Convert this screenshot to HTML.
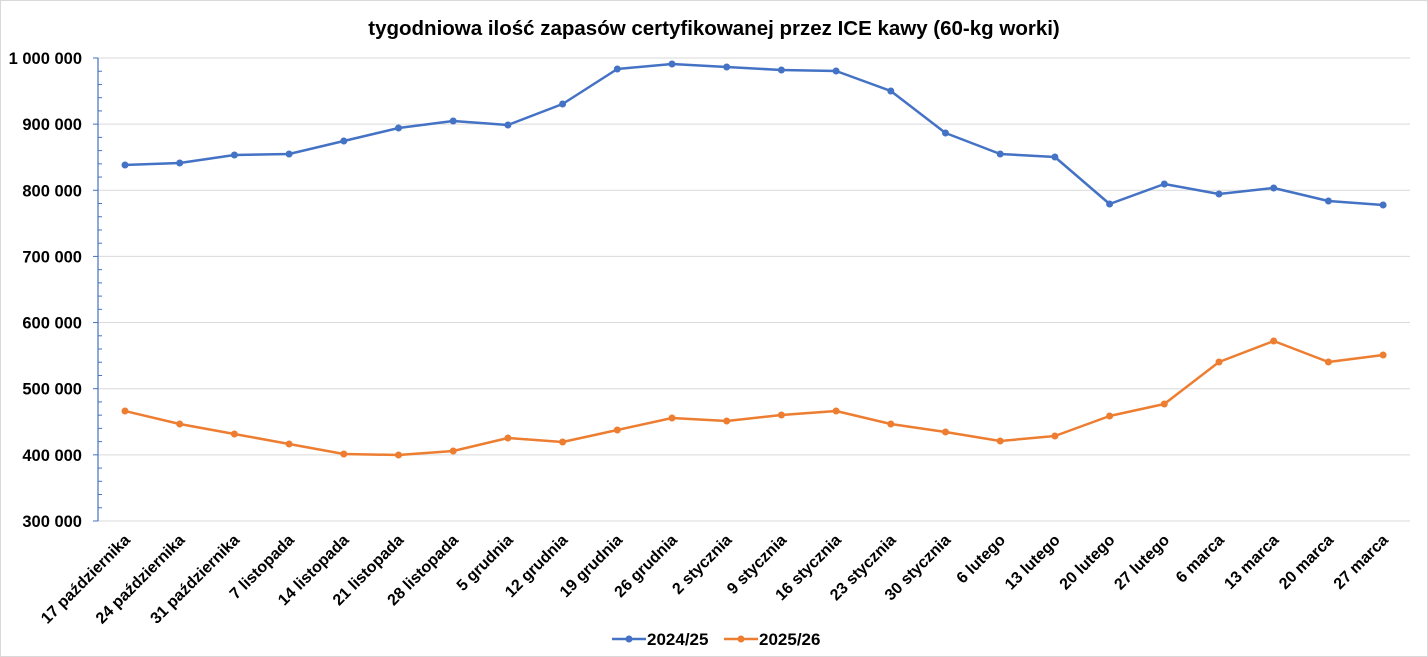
<!DOCTYPE html>
<html><head><meta charset="utf-8"><style>
html,body{margin:0;padding:0;background:#fff}
svg{display:block;font-family:"Liberation Sans",sans-serif}
</style></head><body>
<svg id="s" width="1428" height="657" xmlns="http://www.w3.org/2000/svg">
<rect x="0.5" y="0.5" width="1427" height="656" fill="#fff" stroke="#d9d9d9"/>
<text x="714" y="35" text-anchor="middle" font-size="20.5" font-weight="bold" fill="#000">tygodniowa ilość zapasów certyfikowanej przez ICE kawy (60-kg worki)</text>
<g id="g"></g>
<line x1="612" y1="639" x2="646" y2="639" stroke="#4472c4" stroke-width="2.5"/><circle cx="629" cy="639" r="3.5" fill="#4472c4"/>
<text x="647" y="645" font-size="17" font-weight="bold">2024/25</text>
<line x1="724" y1="639" x2="758" y2="639" stroke="#ed7d31" stroke-width="2.5"/><circle cx="741" cy="639" r="3.5" fill="#ed7d31"/>
<text x="759" y="645" font-size="17" font-weight="bold">2025/26</text>
</svg>
<script>
var g=document.getElementById('g'),h='';
var y0=58,step=66.14;
for(var i=0;i<8;i++){var y=y0+i*step;h+='<line x1="98" y1="'+y+'" x2="1410" y2="'+y+'" stroke="#d9d9d9" stroke-width="1"/>';
h+='<line x1="93" y1="'+y+'" x2="98" y2="'+y+'" stroke="#4472c4"/>';
h+='<text x="82" y="'+(y+6)+'" text-anchor="end" font-size="16.5" font-weight="bold">'+(['1 000 000','900 000','800 000','700 000','600 000','500 000','400 000','300 000'][i])+'</text>';}
for(var j=1;j<35;j++){if(j%5==0)continue;var y=y0+j*step/5;h+='<line x1="98" y1="'+y+'" x2="102" y2="'+y+'" stroke="#4472c4"/>';}
h+='<line x1="98" y1="58" x2="98" y2="521" stroke="#4472c4" stroke-width="1.2"/>';
var labs=['17 października','24 października','31 października','7 listopada','14 listopada','21 listopada','28 listopada','5 grudnia','12 grudnia','19 grudnia','26 grudnia','2 stycznia','9 stycznia','16 stycznia','23 stycznia','30 stycznia','6 lutego','13 lutego','20 lutego','27 lutego','6 marca','13 marca','20 marca','27 marca'];
var b=[165,163,155,154,141,128,121,125,104,69,64,67,70,71,91,133,154,157,204,184,194,188,201,205];
var o=[411,424,434,444,454,455,451,438,442,430,418,421,415,411,424,432,441,436,416,404,362,341,362,355];
var X=function(i){return 125+i*54.7};
function ser(a,c){var p=a.map(function(y,i){return X(i).toFixed(1)+','+y}).join(' ');
var s='<polyline points="'+p+'" fill="none" stroke="'+c+'" stroke-width="2.5" stroke-linejoin="round"/>';
a.forEach(function(y,i){s+='<circle cx="'+X(i).toFixed(1)+'" cy="'+y+'" r="3.5" fill="'+c+'"/>'});return s;}
h+=ser(b,'#4472c4')+ser(o,'#ed7d31');
labs.forEach(function(l,i){var x=X(i)+6,y=541;h+='<text transform="translate('+x+','+y+') rotate(-45)" text-anchor="end" font-size="16" font-weight="bold">'+l+'</text>';});
g.innerHTML=h;
</script>
</body></html>
